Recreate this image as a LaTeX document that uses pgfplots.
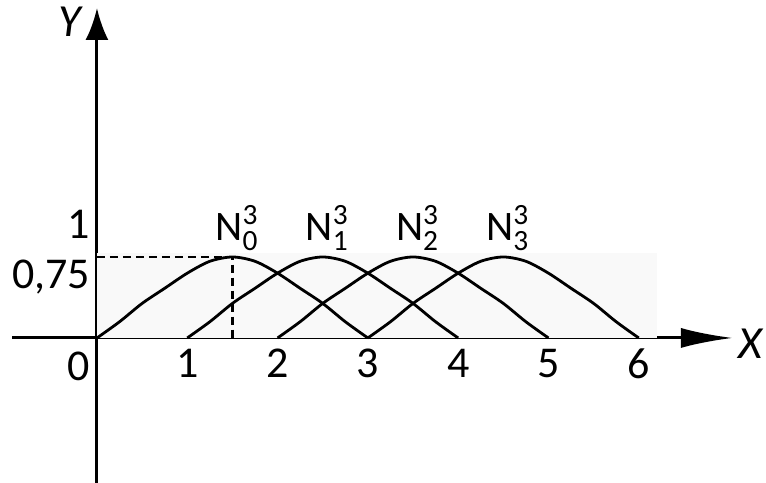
\documentclass[border=0pt]{standalone}
\usepackage{pgfplots}
\pgfplotsset{compat=1.18}
\usepackage{amsmath}
\usepackage{fontspec}
\setmainfont{Carlito}
\usetikzlibrary{arrows.meta}
\tikzset{nlabel/.style={font=\fontsize{21}{24}\selectfont, anchor=base, inner sep=0pt}}

\begin{document}
\begin{tikzpicture}
\begin{axis}[
  scale only axis, width=360.5pt, height=237.5pt,
  xmin=-0.941, xmax=7.043, ymin=-1.343, ymax=3.056,
  axis lines=middle,
  x axis line style={line width=1.5pt, -{Latex[length=26pt,width=10pt]}},
  y axis line style={line width=1.5pt, -{Latex[length=16pt,width=11.5pt]}},
  xtick={1,2,3,4,5,6}, xticklabels={1,2,3,4,5,6},
  ytick={1}, yticklabels={1},
  yticklabel style={yshift=3pt},
  extra y ticks={0.75}, extra y tick labels={0{,}75},
  extra y tick style={yticklabel style={yshift=-13pt}},
  major tick length=0pt,
  tick label style={font=\fontsize{22}{26}\selectfont},
  xticklabel style={yshift=-2pt},
  clip=false,
  basis/.style={smooth, line width=1.4pt},
]
% faint shaded band behind the basis functions
\fill[black!2.5] (axis cs:0,0) rectangle (axis cs:6.2,0.79);

% guide lines to the maximum of N_0^3
\addplot[line width=1.2pt, dash pattern=on 4pt off 2.5pt] coordinates {(0,0.75) (1.5,0.75) (1.5,0)};

% quadratic basis functions N_0^3 ... N_3^3
\addplot[basis] coordinates {
 (0,0) (0.25,0.15) (0.5,0.32) (0.75,0.46) (1,0.6) (1.25,0.71) (1.5,0.75)
 (1.75,0.71) (2,0.6) (2.25,0.46) (2.5,0.32) (2.75,0.15) (3,0)};
\addplot[basis] coordinates {
 (1,0) (1.25,0.15) (1.5,0.32) (1.75,0.46) (2,0.6) (2.25,0.71) (2.5,0.75)
 (2.75,0.71) (3,0.6) (3.25,0.46) (3.5,0.32) (3.75,0.15) (4,0)};
\addplot[basis] coordinates {
 (2,0) (2.25,0.15) (2.5,0.32) (2.75,0.46) (3,0.6) (3.25,0.71) (3.5,0.75)
 (3.75,0.71) (4,0.6) (4.25,0.46) (4.5,0.32) (4.75,0.15) (5,0)};
\addplot[basis] coordinates {
 (3,0) (3.25,0.15) (3.5,0.32) (3.75,0.46) (4,0.6) (4.25,0.71) (4.5,0.75)
 (4.75,0.71) (5,0.6) (5.25,0.46) (5.5,0.32) (5.75,0.15) (6,0)};

% labels
\node[font=\fontsize{22}{26}\selectfont, anchor=north east, inner sep=0pt] at (axis cs:-0.08,-0.13) {0};
\node[font=\fontsize{23}{26}\selectfont\itshape] at (axis cs:7.24,-0.05) {X};
\node[font=\fontsize{23}{26}\selectfont\itshape] at (axis cs:-0.30,2.93) {Y};
\node[nlabel] at (axis cs:1.55,0.907) {N$^{\text{3}}_{\text{0}}$};
\node[nlabel] at (axis cs:2.55,0.907) {N$^{\text{3}}_{\text{1}}$};
\node[nlabel] at (axis cs:3.55,0.907) {N$^{\text{3}}_{\text{2}}$};
\node[nlabel] at (axis cs:4.55,0.907) {N$^{\text{3}}_{\text{3}}$};

\coordinate (bbll) at (axis cs:-1.074,-1.343);
\coordinate (bbur) at (axis cs:7.409,3.13);
\end{axis}
\pgfresetboundingbox
\path[use as bounding box] (bbll) rectangle (bbur);
\end{tikzpicture}
\end{document}
